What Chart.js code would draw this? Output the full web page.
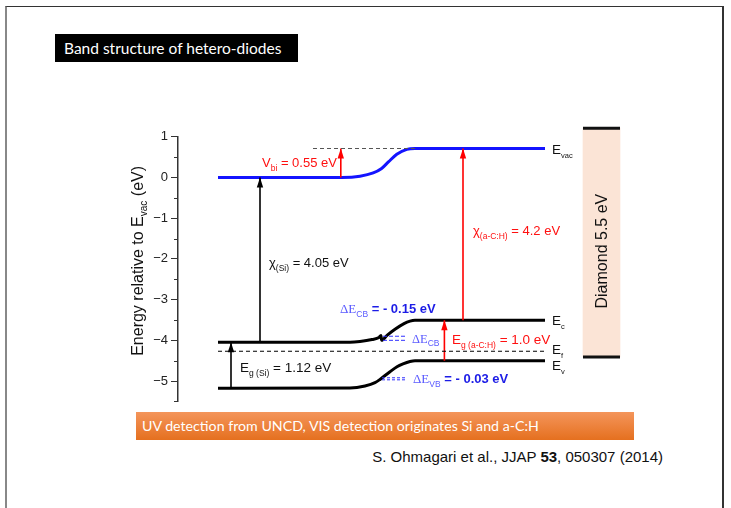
<!DOCTYPE html>
<html><head><meta charset="utf-8">
<script src="https://cdn.jsdelivr.net/npm/chart.js@4.4.1/dist/chart.umd.min.js"></script>
<style>
html,body{margin:0;padding:0;background:#fff;width:731px;height:508px;overflow:hidden;}
#frame{position:absolute;left:5px;top:6px;width:715px;height:520px;border-top:1.5px solid #333;border-right:2px solid #333;border-left:2px solid #888;}
#title{position:absolute;left:55px;top:34px;width:243px;height:28px;background:#000;color:#fff;font-family:Lato,sans-serif;font-size:15.5px;line-height:28px;padding-left:9px;box-sizing:border-box;white-space:nowrap;}
#orange{position:absolute;left:136px;top:412px;width:498px;height:28px;background:linear-gradient(#f4955b,#e5701f);color:#fff;font-family:Lato,sans-serif;font-size:14.2px;line-height:28px;padding-left:6px;box-sizing:border-box;white-space:nowrap;}
#cite{position:absolute;right:68px;top:448px;font-family:"Liberation Sans",Arial,sans-serif;font-size:15px;color:#111;white-space:nowrap;}
#wrap{position:absolute;left:0;top:0;width:731px;height:508px;}
</style></head>
<body>
<div id="frame"></div>
<div id="title">Band structure of hetero-diodes</div>
<div id="orange">UV detection from UNCD, VIS detection originates Si and a-C:H</div>
<div id="cite">S. Ohmagari et al., JJAP <b>53</b>, 050307 (2014)</div>
<div id="wrap"><canvas id="c" width="731" height="508"></canvas></div>
<script>
// ---- data (position in arbitrary units, energy in eV) ----
const evacX = [0, 31, 35.5, 38.8, 40.9, 42.6, 44.7, 47.2, 49.25, 81.75];
const evacY = [0, 0, 0.03, 0.11, 0.22, 0.38, 0.57, 0.69, 0.71, 0.71];
const ecX = [0, 33, 35.5, 38.5, 40.25, 40.75, 40.9, 42.25, 44.25, 46.5, 48, 49.25, 81.75];
const ecY = [-4.05, -4.05, -4.03, -3.98, -3.93, -3.88, -4.0, -3.88, -3.73, -3.59, -3.53, -3.51, -3.51];
const evX = [0, 33, 36.75, 39.25, 40.5, 43, 44.75, 46.25, 48, 49.25, 81.75];
const evY = [-5.18, -5.17, -5.12, -5.04, -4.96, -4.77, -4.65, -4.58, -4.52, -4.50, -4.50];
const efX = [0, 81.75];
const efY = [-4.27, -4.27];
const vacRefX = [23.75, 49.25];
const vacRefY = [0.71, 0.71];
const dCbX = [41.25, 46.75];
const dCbY = [-3.90, -4.00];
const dVbX = [41.0, 47.0];
const dVbY = [-4.92, -4.97];
const arrowX = [10.5, 3.25, 30.7, 61.25, 56.6];
const arrowBase = [-4.05, -5.17, 0, -3.51, -4.50];
const arrowTip = [0, -4.05, 0.71, 0.71, -3.51];
const diamondX = [91.25, 100.5];
const diamondRange = [-4.41, 1.21];
const yTicks = [1, 0, -1, -2, -3, -4, -5];
const yMinor = [0.5, -0.5, -1.5, -2.5, -3.5, -4.5, -5.5];

const SANS = '"Liberation Sans", Arial, sans-serif';
const SERIF = '"Liberation Serif", "Times New Roman", serif';
const zip = (xs, ys) => xs.map((x, i) => ({x, y: ys[i]}));
const arrowColors = ['#000', '#000', '#ff0000', '#ff0000', '#ff0000'];

const datasets = [];
datasets.push({type:'bar', data:[{x:(diamondX[0]+diamondX[1])/2, y:diamondRange}], backgroundColor:'#fbe4d6', barThickness:37, order:10, clip:false});
datasets.push({data: zip(diamondX, [diamondRange[1], diamondRange[1]]), borderColor:'#111', borderWidth:3, clip:false});
datasets.push({data: zip(diamondX, [diamondRange[0], diamondRange[0]]), borderColor:'#111', borderWidth:3, clip:false});
datasets.push({data: zip(efX, efY), borderColor:'#000', borderWidth:1.1, borderDash:[4,3]});
datasets.push({data: zip(vacRefX, vacRefY), borderColor:'#555', borderWidth:1, borderDash:[4,3]});
datasets.push({data: zip(dCbX, [dCbY[0], dCbY[0]]), borderColor:'#3030ff', borderWidth:1, borderDash:[4,2]});
datasets.push({data: zip(dCbX, [dCbY[1], dCbY[1]]), borderColor:'#3030ff', borderWidth:1, borderDash:[4,2]});
datasets.push({data: zip(dVbX, [dVbY[0], dVbY[0]]), borderColor:'#3030ff', borderWidth:1, borderDash:[3,2]});
datasets.push({data: zip(dVbX, [dVbY[1], dVbY[1]]), borderColor:'#3030ff', borderWidth:1, borderDash:[3,2]});
arrowX.forEach((x, i) => {
  datasets.push({data: zip([x, x], [arrowBase[i], arrowTip[i]]), borderColor: arrowColors[i], borderWidth:1.6, arrow:true});
});
datasets.push({data: zip(ecX, ecY), borderColor:'#000', borderWidth:3, cubicInterpolationMode:'monotone'});
datasets.push({data: zip(evX, evY), borderColor:'#000', borderWidth:3, cubicInterpolationMode:'monotone'});
datasets.push({data: zip(evacX, evacY), borderColor:'#1414ff', borderWidth:3, cubicInterpolationMode:'monotone'});

function drawParts(ctx, x, yc, parts, size) {
  let cx = x;
  const base = yc + size * 0.36;
  ctx.textBaseline = 'alphabetic';
  ctx.textAlign = 'left';
  for (const p of parts) {
    ctx.font = p.font;
    ctx.fillStyle = p.color;
    ctx.fillText(p.t, cx, base + (p.sub ? size * 0.3 : 0));
    cx += ctx.measureText(p.t).width;
  }
}

const annot = {
  id: 'annot',
  afterDatasetsDraw(chart) {
    const ctx = chart.ctx;
    const X = v => chart.scales.x.getPixelForValue(v);
    const Y = v => chart.scales.y.getPixelForValue(v);
    const ca = chart.chartArea;
    ctx.save();
    // arrowheads
    chart.data.datasets.forEach(ds => {
      if (!ds.arrow) return;
      const p = ds.data[1];
      const px = X(p.x), py = Y(p.y);
      ctx.fillStyle = ds.borderColor;
      ctx.beginPath();
      ctx.moveTo(px, py);
      ctx.lineTo(px - 3.2, py + 10);
      ctx.lineTo(px + 3.2, py + 10);
      ctx.closePath();
      ctx.fill();
    });
    // minor ticks
    ctx.strokeStyle = '#333';
    ctx.lineWidth = 1;
    yMinor.forEach(v => {
      const y = Math.round(Y(v)) + 0.5;
      ctx.beginPath(); ctx.moveTo(ca.left - 4, y); ctx.lineTo(ca.left, y); ctx.stroke();
    });
    const red = '#ff1010', blk = '#111', blue = '#1c1ce6', lblue = '#5a5aff';
    const f = (s, b) => (b ? 'bold ' : '') + s + 'px ' + SANS;
    const fs = s => s + 'px ' + SERIF;
    const L = (x, y, parts, size) => drawParts(ctx, X(x), Y(y), parts, size || 13);
    L(11.0, 0.36, [{t:'V', font:f(13), color:red}, {t:'bi', font:f(8.5), color:red, sub:true}, {t:' = 0.55 eV', font:f(13), color:red}]);
    L(12.75, -2.08, [{t:'χ', font:f(13), color:blk}, {t:'(Si)', font:f(8.5), color:blk, sub:true}, {t:' = 4.05 eV', font:f(13), color:blk}]);
    L(63.75, -1.29, [{t:'χ', font:f(13), color:red}, {t:'(a-C:H)', font:f(8.5), color:red, sub:true}, {t:' = 4.2 eV', font:f(13), color:red}]);
    L(30.5, -3.21, [{t:'ΔE', font:fs(13), color:lblue}, {t:'CB', font:f(8.5), color:lblue, sub:true}, {t:' = - 0.15 eV', font:f(13, true), color:blue}]);
    L(48.5, -3.94, [{t:'ΔE', font:fs(12.5), color:lblue}, {t:'CB', font:f(8.5), color:lblue, sub:true}]);
    L(58.5, -3.97, [{t:'E', font:f(13.5), color:red}, {t:'g (a-C:H)', font:f(8.5), color:red, sub:true}, {t:' = 1.0 eV', font:f(13.5), color:red}], 13.5);
    L(5.5, -4.65, [{t:'E', font:f(13.5), color:blk}, {t:'g (Si)', font:f(8.5), color:blk, sub:true}, {t:' = 1.12 eV', font:f(13.5), color:blk}], 13.5);
    L(48.75, -4.94, [{t:'ΔE', font:fs(13), color:lblue}, {t:'VB', font:f(8.5), color:lblue, sub:true}, {t:' = - 0.03 eV', font:f(13, true), color:blue}]);
    L(83.5, 0.69, [{t:'E', font:f(13.5), color:blk}, {t:'vac', font:f(7.5), color:blk, sub:true}], 13.5);
    L(83.5, -3.50, [{t:'E', font:f(13.5), color:blk}, {t:'c', font:f(7.5), color:blk, sub:true}], 13.5);
    L(83.5, -4.21, [{t:'E', font:f(13.5), color:blk}, {t:'f', font:f(7.5), color:blk, sub:true}], 13.5);
    L(83.5, -4.61, [{t:'E', font:f(13.5), color:blk}, {t:'v', font:f(7.5), color:blk, sub:true}], 13.5);
    // diamond label
    ctx.save();
    ctx.translate(X((diamondX[0] + diamondX[1]) / 2) + 5.5, Y(-1.81));
    ctx.rotate(-Math.PI / 2);
    ctx.font = f(16); ctx.fillStyle = '#111'; ctx.textAlign = 'center'; ctx.textBaseline = 'alphabetic';
    ctx.fillText('Diamond 5.5 eV', 0, 0);
    ctx.restore();
    // y axis title
    ctx.save();
    ctx.translate(ca.left - 35, Y(-2.05));
    ctx.rotate(-Math.PI / 2);
    const parts = [{t:'Energy relative to E', font:f(16)}, {t:'vac', font:f(10), sub:true}, {t:' (eV)', font:f(16)}];
    let w = 0;
    parts.forEach(p => { ctx.font = p.font; w += ctx.measureText(p.t).width; });
    let cx = -w / 2;
    ctx.fillStyle = '#111'; ctx.textBaseline = 'alphabetic'; ctx.textAlign = 'left';
    parts.forEach(p => { ctx.font = p.font; ctx.fillText(p.t, cx, p.sub ? 4 : 0); cx += ctx.measureText(p.t).width; });
    ctx.restore();
    ctx.restore();
  }
};

new Chart(document.getElementById('c'), {
  type: 'line',
  data: { datasets },
  options: {
    responsive: false,
    animation: false,
    events: [],
    layout: { padding: { left: 138, right: 73, top: 136.7, bottom: 106.6 } },
    elements: { point: { radius: 0 }, line: { tension: 0 } },
    plugins: { legend: { display: false }, tooltip: { enabled: false } },
    scales: {
      x: { type: 'linear', min: -10, max: 110, display: false, offset: false, grid: { offset: false } },
      y: {
        type: 'linear', min: -5.5, max: 1, position: 'left',
        afterFit: s => { s.width = 40; },
        afterBuildTicks: s => { s.ticks = yTicks.map(v => ({ value: v })); },
        border: { display: true, color: '#333', width: 1.5 },
        grid: { drawOnChartArea: false, drawTicks: true, tickLength: 7, color: '#333', tickColor: '#333' },
        ticks: { padding: 3, color: '#222', font: { family: SANS, size: 13 },
          callback: v => v < 0 ? '\u2212' + Math.abs(v) : String(v) }
      }
    }
  },
  plugins: [annot]
});
</script>
</body></html>
